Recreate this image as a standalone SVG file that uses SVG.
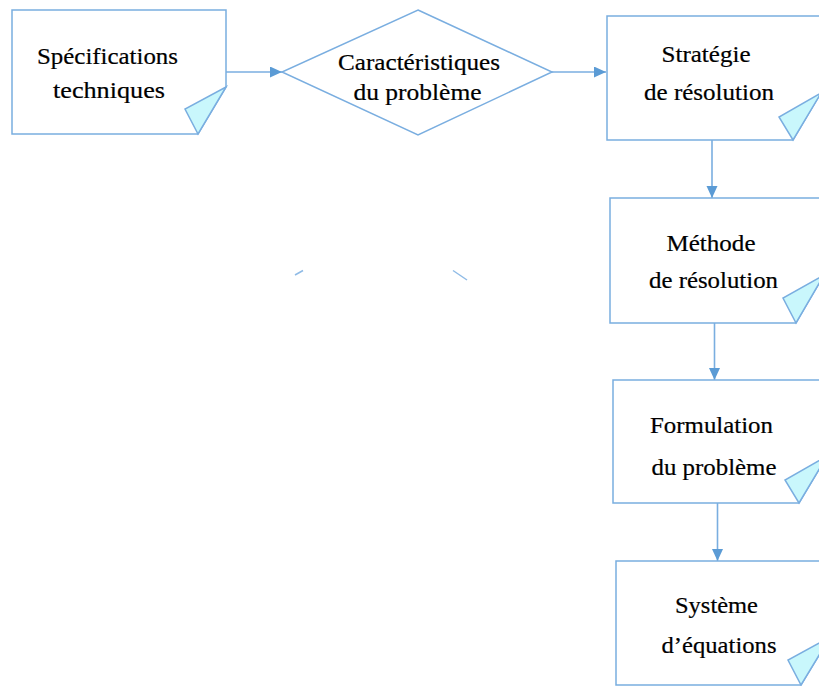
<svg xmlns="http://www.w3.org/2000/svg" width="819" height="686" viewBox="0 0 819 686">
<defs>
<style>
.box{fill:#ffffff;stroke:#7aaee0;stroke-width:1.5}
.fold{fill:#c9f7fc;stroke:#7aaee0;stroke-width:1.5;stroke-linejoin:miter}
.lbl{font-family:'Liberation Serif','Times New Roman',Times,serif;font-size:23px;fill:#000000;text-anchor:middle;stroke:#000000;stroke-width:0.2}
.conn{stroke:#7aaee0;stroke-width:1.6;fill:none}
.faint{stroke:#8fbbe6;stroke-width:1.5;fill:none}
</style>
<marker id="ah" markerUnits="userSpaceOnUse" markerWidth="13" markerHeight="12" refX="12" refY="5.5" orient="auto">
<path d="M0,0 L12,5.5 L0,11 Z" fill="#5b9bd5"/>
</marker>
</defs>
<rect width="819" height="686" fill="#ffffff"/>

<g id="connectors">
<line class="conn" x1="226" y1="72" x2="282" y2="72" marker-end="url(#ah)"/>
<line class="conn" x1="552" y1="72" x2="606" y2="72" marker-end="url(#ah)"/>
<line class="conn" x1="712" y1="140" x2="712" y2="198" marker-end="url(#ah)"/>
<line class="conn" x1="714.5" y1="323" x2="714.5" y2="380" marker-end="url(#ah)"/>
<line class="conn" x1="717.5" y1="503" x2="717.5" y2="561" marker-end="url(#ah)"/>
</g>

<g id="node-specifications">
<path class="box" d="M12,10 H226 V87 L198,134 H12 Z"/>
<path class="fold" d="M226,87 L198,134 L185,109 Z"/>
<text class="lbl" x="107.5" y="64" textLength="141" lengthAdjust="spacingAndGlyphs">Spécifications</text>
<text class="lbl" x="109" y="98" textLength="112" lengthAdjust="spacingAndGlyphs">techniques</text>
</g>

<g id="node-caracteristiques">
<polygon class="box" points="418,10 552,72 418,135 282,72"/>
<text class="lbl" x="419" y="70" textLength="162" lengthAdjust="spacingAndGlyphs">Caractéristiques</text>
<text class="lbl" x="417.5" y="100" textLength="128" lengthAdjust="spacingAndGlyphs">du problème</text>
</g>

<g id="node-strategie">
<path class="box" d="M607,16 H821 V93 L793,140 H607 Z"/>
<path class="fold" d="M821,93 L793,140 L779,117 Z"/>
<text class="lbl" x="706" y="62" textLength="89" lengthAdjust="spacingAndGlyphs">Stratégie</text>
<text class="lbl" x="709" y="100" textLength="130" lengthAdjust="spacingAndGlyphs">de résolution</text>
</g>

<g id="node-methode">
<path class="box" d="M610,198 H824 V275 L796,323 H610 Z"/>
<path class="fold" d="M824,275 L796,323 L783,298 Z"/>
<text class="lbl" x="711" y="251" textLength="89" lengthAdjust="spacingAndGlyphs">Méthode</text>
<text class="lbl" x="713.5" y="288" textLength="129" lengthAdjust="spacingAndGlyphs">de résolution</text>
</g>

<g id="node-formulation">
<path class="box" d="M613,380 H827 V456 L799,503 H613 Z"/>
<path class="fold" d="M827,456 L799,503 L785,480 Z"/>
<text class="lbl" x="711.5" y="433" textLength="123" lengthAdjust="spacingAndGlyphs">Formulation</text>
<text class="lbl" x="714" y="475" textLength="125" lengthAdjust="spacingAndGlyphs">du problème</text>
</g>

<g id="node-systeme">
<path class="box" d="M616,561 H830 V637 L801,685 H616 Z"/>
<path class="fold" d="M830,637 L801,685 L788,660 Z"/>
<text class="lbl" x="716.5" y="613" textLength="83" lengthAdjust="spacingAndGlyphs">Système</text>
<text class="lbl" x="719" y="653" textLength="115" lengthAdjust="spacingAndGlyphs">d’équations</text>
</g>

<g id="fragments">
<line class="faint" x1="295" y1="275" x2="303" y2="270.5"/>
<line class="faint" x1="453" y1="270.5" x2="467" y2="280"/>
</g>
</svg>
